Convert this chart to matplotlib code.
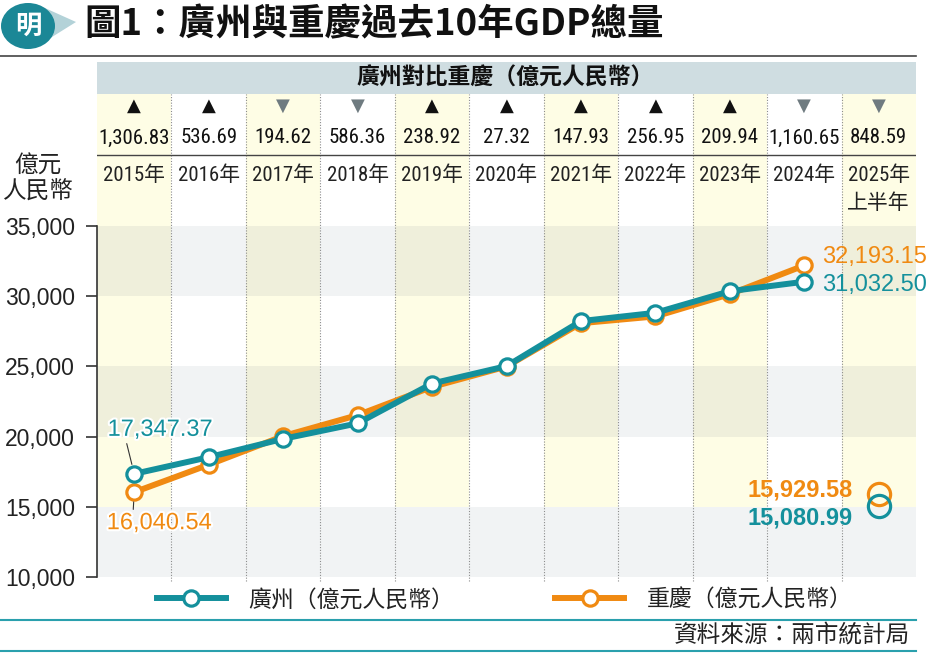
import matplotlib.pyplot as plt
import matplotlib.patheffects as pe
from matplotlib import font_manager
from matplotlib.patches import Rectangle, Polygon, Ellipse

# ---- data ----
years = ['2015年', '2016年', '2017年', '2018年', '2019年', '2020年',
         '2021年', '2022年', '2023年', '2024年', '2025年']
year_note = '上半年'
guangzhou = [17347.37, 18532, 19840, 20943, 23780, 25019,
             28227, 28817, 30355, 31032.50]
chongqing = [16040.54, 17995, 20035, 21529, 23541, 24992,
             28079, 28560, 30145, 32193.15]
gz_2025h1 = 15080.99
cq_2025h1 = 15929.58
diff_labels = ['1,306.83', '536.69', '194.62', '586.36', '238.92', '27.32',
               '147.93', '256.95', '209.94', '1,160.65', '848.59']
gz_ahead = [True, True, False, False, True, True, True, True, True, False, False]
yticks = [10000, 15000, 20000, 25000, 30000, 35000]

# ---- style ----
TEAL = '#14909c'
ORANGE = '#f08a12'
GRAY_BAND = '#f1f3f4'
YELLOW = '#fefde5'
OLIVE = '#efefdb'
HEADER = '#cfdde1'
CJK = ['Noto Sans CJK TC', 'DejaVu Sans']
LATIN = ['Liberation Sans', 'DejaVu Sans']


def has_font(name):
    try:
        font_manager.findfont(name, fallback_to_default=False)
        return True
    except ValueError:
        return False


# condensed font for the table, if there is one
NARROW, NUM_SIZE, YEAR_SIZE = ['Roboto', 'Noto Sans CJK TC'], 13, 14
for name in ('Liberation Sans Narrow', 'DejaVu Sans Condensed', 'Roboto Condensed'):
    if has_font(name):
        NARROW, NUM_SIZE, YEAR_SIZE = [name, 'Noto Sans CJK TC'], 15, 15
        break

W, H = 939, 653
X0, X1 = 97, 916
Y_TOP, Y_BOT = 94, 577
PX = 351 / 25000          # pixels per unit
YMAX = 10000 + (Y_BOT - Y_TOP) / PX


def row(py):
    # pixel row -> data value
    return 10000 + (Y_BOT - py) / PX


fig = plt.figure(figsize=(W / 100, H / 100), dpi=100)
fig.patch.set_facecolor('white')

# decoration layer in pixel coords
deco = fig.add_axes([0, 0, 1, 1], zorder=0)
deco.set_xlim(0, W)
deco.set_ylim(H, 0)
deco.axis('off')

ax = fig.add_axes([X0 / W, 1 - Y_BOT / H, (X1 - X0) / W, (Y_BOT - Y_TOP) / H], zorder=1)
ax.patch.set_alpha(0)
n = len(years)
ax.set_xlim(-0.5, n - 0.5)
ax.set_ylim(10000, YMAX)

# background bands
for v0 in (10000, 20000, 30000):
    ax.add_patch(Rectangle((-0.5, v0), n, 5000, color=GRAY_BAND, lw=0, zorder=0))
for i in range(0, n, 2):
    ax.add_patch(Rectangle((i - 0.5, 15000), 1, YMAX - 15000, color=YELLOW, lw=0, zorder=0.1))
    for v0 in (20000, 30000):
        ax.add_patch(Rectangle((i - 0.5, v0), 1, 5000, color=OLIVE, lw=0, zorder=0.2))

ax.vlines([k + 0.5 for k in range(n - 1)], row(581), YMAX, colors='#8c8c8c',
          linestyles=(0, (1, 1.5)), lw=0.8, zorder=0.5, clip_on=False)
ax.axhline(row(155), color='#444444', lw=1, zorder=1)

# table rows
for i in range(n):
    if gz_ahead[i]:
        ax.text(i, row(106), '▲', ha='center', va='center', fontsize=13,
                color='#111111', family='DejaVu Sans')
    else:
        ax.text(i, row(106), '▼', ha='center', va='center', fontsize=13,
                color='#6f7b80', family='DejaVu Sans')
    ax.text(i, row(138), diff_labels[i], ha='center', va='center',
            fontsize=NUM_SIZE, family=NARROW, color='#111111')
    ax.text(i, row(175), years[i], ha='center', va='center',
            fontsize=YEAR_SIZE, family=NARROW, color='#222222')
ax.text(n - 1, row(203), year_note, ha='center', va='center',
        fontsize=YEAR_SIZE, family=NARROW, color='#222222')

# lines
x = list(range(len(guangzhou)))
cq_line, = ax.plot(x, chongqing, color=ORANGE, lw=4.3, marker='o', ms=11,
                   mfc='white', mec=ORANGE, mew=2.3, zorder=3,
                   label='重慶（億元人民幣）')
gz_line, = ax.plot(x, guangzhou, color=TEAL, lw=4.3, marker='o', ms=11,
                   mfc='white', mec=TEAL, mew=2.3, zorder=4,
                   label='廣州（億元人民幣）')
ax.plot([n - 1], [cq_2025h1], 'o', ms=16, mfc='none', mec=ORANGE, mew=2.3, zorder=3)
ax.plot([n - 1], [gz_2025h1], 'o', ms=16, mfc='none', mec=TEAL, mew=2.3, zorder=4)

halo = [pe.withStroke(linewidth=3, foreground='white')]
ax.annotate(f'{guangzhou[0]:,.2f}', xy=(0, guangzhou[0]), xytext=(26, 44),
            textcoords='offset pixels', ha='center', va='center', fontsize=17,
            color=TEAL, family=LATIN, path_effects=halo, zorder=5,
            arrowprops=dict(arrowstyle='-', color='#333333', lw=0.8,
                            relpos=(0.17, 0.1), shrinkA=0, shrinkB=7))
ax.annotate(f'{chongqing[0]:,.2f}', xy=(0, chongqing[0]), xytext=(25, -31),
            textcoords='offset pixels', ha='center', va='center', fontsize=17,
            color=ORANGE, family=LATIN, path_effects=halo, zorder=5,
            arrowprops=dict(arrowstyle='-', color='#333333', lw=0.8,
                            relpos=(0.25, 0.9), shrinkA=0, shrinkB=7))
ax.annotate(f'{chongqing[-1]:,.2f}', xy=(x[-1], chongqing[-1]), xytext=(18, 8),
            textcoords='offset pixels', ha='left', va='center', fontsize=17,
            color=ORANGE, family=LATIN, zorder=5)
ax.annotate(f'{guangzhou[-1]:,.2f}', xy=(x[-1], guangzhou[-1]), xytext=(18, -3),
            textcoords='offset pixels', ha='left', va='center', fontsize=17,
            color=TEAL, family=LATIN, zorder=5)
ax.annotate(f'{cq_2025h1:,.2f}', xy=(n - 1, cq_2025h1), xytext=(-26, 4),
            textcoords='offset pixels', ha='right', va='center', fontsize=17,
            fontweight='bold', color=ORANGE, family=LATIN, zorder=5)
ax.annotate(f'{gz_2025h1:,.2f}', xy=(n - 1, gz_2025h1), xytext=(-26, -12),
            textcoords='offset pixels', ha='right', va='center', fontsize=17,
            fontweight='bold', color=TEAL, family=LATIN, zorder=5)

# axis
for s in ('top', 'right', 'bottom'):
    ax.spines[s].set_visible(False)
ax.spines['left'].set_bounds(10000, 35000)
ax.spines['left'].set_color('#333333')
ax.spines['left'].set_linewidth(1.2)
ax.set_xticks([])
ax.set_yticks(yticks)
ax.set_yticklabels([f'{v:,}' for v in yticks], family=LATIN, fontsize=16.5, color='#222222')
ax.tick_params(axis='y', direction='out', length=8, width=1.2, color='#333333', pad=8)
deco.text(38, 179, '億元\n人民幣', ha='center', va='center', fontsize=17,
          family=CJK, color='#222222', linespacing=1.2)

# header bar
deco.add_patch(Rectangle((X0, 62), X1 - X0, 32, color=HEADER, lw=0))
deco.text(505, 78, '廣州對比重慶（億元人民幣）', ha='center', va='center',
          fontsize=16.5, fontweight='bold', family=CJK, color='#111111')

# title and logo
deco.add_patch(Polygon([[36, 4], [76, 22], [36, 47]], closed=True, color='#b3d2d8', lw=0))
deco.add_patch(Ellipse((28, 26), 54, 46, color='#1b8796', lw=0))
deco.text(28, 26, '明', ha='center', va='center', fontsize=19, fontweight='bold',
          color='white', family=CJK)
deco.text(84, 25, '圖1：廣州與重慶過去10年GDP總量', ha='left', va='center',
          fontsize=26.3, fontweight='heavy', family=CJK, color='#111111')
deco.plot([0, X1], [56, 56], color='#444444', lw=1.2)

# legend and footer
leg = fig.legend(handles=[gz_line, cq_line], loc='center left',
                 bbox_to_anchor=(157 / W, 1 - 600 / H), ncol=2, frameon=False,
                 handlelength=3.0, handletextpad=1.0, columnspacing=4.4,
                 borderpad=0, borderaxespad=0,
                 prop={'family': CJK, 'size': 16.5})
for t in leg.get_texts():
    t.set_color('#222222')
deco.plot([0, X1], [620, 620], color='#2aa0ad', lw=1.5)
deco.plot([0, X1], [651, 651], color='#2aa0ad', lw=1.5)
deco.text(910, 636, '資料來源：兩市統計局', ha='right', va='center',
          fontsize=17, family=CJK, color='#222222')

fig.savefig('out.png', dpi=100)
